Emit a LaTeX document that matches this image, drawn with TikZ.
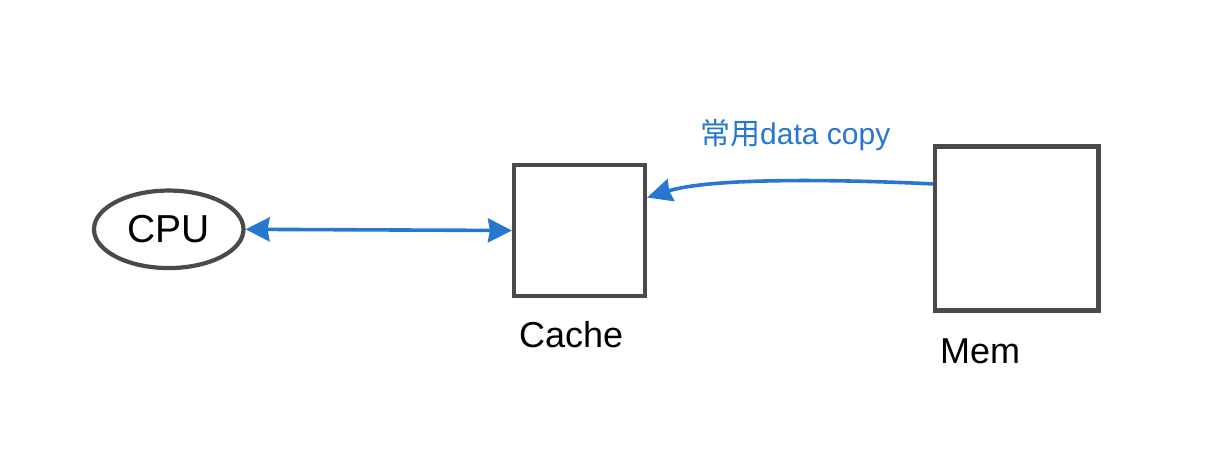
\documentclass[tikz,border=0pt]{standalone}
\usepackage{fontspec}
\setmainfont{Liberation Sans}
\newfontfamily\cjk{Noto Sans CJK SC}
\usetikzlibrary{arrows.meta,shapes.geometric}
\definecolor{edgegray}{HTML}{4A4A4A}
\definecolor{linkblue}{HTML}{2776D0}
\begin{document}
\begin{tikzpicture}[x=1pt,y=-1pt,
  box/.style={draw=edgegray,line width=4.2pt,rectangle,inner sep=0pt},
  oval/.style={draw=edgegray,line width=4.2pt,ellipse,inner sep=0pt,font=\fontsize{39}{44}\selectfont},
  lbl/.style={inner sep=0pt,anchor=base west,font=\fontsize{36}{40}\selectfont},
  link/.style={draw=linkblue,line width=3.6pt},
  tip/.style={Stealth[length=24pt,width=24pt,inset=2pt]}]
\path[use as bounding box] (0,0) rectangle (1220,466);
\node[oval,minimum width=149.5pt,minimum height=77.5pt] (cpu) at (168.75,229.3) {CPU};
\node[box,minimum width=131pt,minimum height=131pt] (cache) at (579.5,230.5) {};
\node[box,minimum width=163.5pt,minimum height=164pt] (mem) at (1016.75,228.5) {};
\node[lbl] (cachelbl) at (519,347) {Cache};
\node[lbl] (memlbl) at (940,363) {Mem};
\node[inner sep=0pt,anchor=base west,text=linkblue,font=\fontsize{30}{34}\selectfont] (copylbl) at (700,144) {{\cjk 常用}data copy};
\draw[link,{Stealth[length=24pt,width=24pt,inset=2pt]}-{Stealth[length=24pt,width=24pt,inset=2pt]}] (cpu.east) -- (cache.west);
\draw[link,-{Stealth[length=25pt,width=23pt,inset=2pt]}] (mem.152.7) .. controls (830,179) and (710,178) .. (cache.26);
\end{tikzpicture}
\end{document}
